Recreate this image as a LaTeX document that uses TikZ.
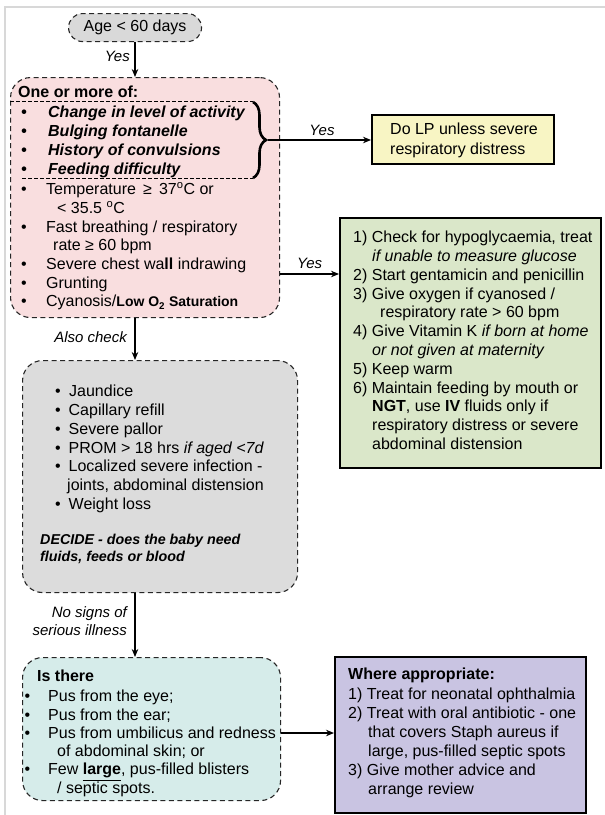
\documentclass[tikz,border=0pt]{standalone}
\usepackage{fontspec}
\setmainfont{Liberation Sans}
\usetikzlibrary{arrows.meta,decorations.pathreplacing}

\newcommand\fbody{\fontsize{16}{18.8}\selectfont}
\newcommand\flabel{\fontsize{15}{17.5}\selectfont\itshape}
\newcommand\bul[1]{\makebox[#1][l]{•}}

\definecolor{agefill}{HTML}{D9D9D9}
\definecolor{pinkfill}{HTML}{F9DEDF}
\definecolor{greyfill}{HTML}{DCDCDC}
\definecolor{tealfill}{HTML}{D6ECEA}
\definecolor{yellowfill}{HTML}{F8F5C4}
\definecolor{greenfill}{HTML}{DAE7C9}
\definecolor{purplefill}{HTML}{C9C4E2}
\definecolor{framegrey}{HTML}{D8D8D8}

\begin{document}
\begin{tikzpicture}[x=1pt,y=-1pt,
  dbox/.style={draw=black!85, line width=1.1pt, dash pattern=on 5pt off 3.5pt,
    rounded corners=20pt, inner sep=0pt, anchor=north west},
  sbox/.style={draw=black, line width=1.6pt, inner sep=0pt, anchor=north west},
  txt/.style={anchor=north west, inner sep=0pt, align=left, font=\fbody},
  lbl/.style={inner sep=0pt, font=\flabel},
  arr/.style={-{Stealth[length=8pt,width=6.5pt]}, line width=1.1pt},
  sepline/.style={line width=0.7pt, dash pattern=on 4pt off 2pt},
]
\useasboundingbox (0,0) rectangle (605,815);
\fill[white] (0,0) rectangle (605,815);
\draw[framegrey, line width=1.6pt] (5,815) -- (5,7) -- (605,7);

% boxes
\node[dbox, fill=agefill, minimum width=133pt, minimum height=28pt,
      rounded corners=14pt, font=\fbody] (age) at (68,13) {Age < 60 days};
\node[dbox, fill=pinkfill, minimum width=269pt, minimum height=240pt] (pink) at (10,77) {};
\node[dbox, fill=greyfill, minimum width=275pt, minimum height=232pt] (grey) at (22,360) {};
\node[dbox, fill=tealfill, minimum width=258pt, minimum height=143pt] (teal) at (22,657) {};
\node[sbox, fill=yellowfill, minimum width=182pt, minimum height=49pt] (yellow) at (371,114) {};
\node[sbox, fill=greenfill, minimum width=261pt, minimum height=250pt] (green) at (339,217) {};
\node[sbox, fill=purplefill, minimum width=251pt, minimum height=156pt] (purple) at (334,656) {};

% danger signs
\node[txt, font=\fbody\bfseries] (ptitle) at (18,83.8) {\strut One or more of:};
\draw[sepline] (10,101) -- (253,101);
\node[txt, font=\fontsize{16}{19}\selectfont\bfseries\itshape] (plistA) at (21,104.2) {%
  \strut\bul{27pt}Change in level of activity\\
  \bul{27pt}Bulging fontanelle\\
  \bul{27pt}History of convulsions\\
  \bul{27pt}Feeding difficulty};
\draw[sepline] (22,178) -- (253,178);
\draw[line width=2.6pt, decorate, decoration={brace, amplitude=13pt}]
  (253,102) -- (253,178);
\coordinate (tip) at (268,140);

\node[txt, font=\fontsize{16}{18.7}\selectfont] (plistB) at (21,181.4) {%
  \strut\bul{25pt}Temperature \,≥\, 37\textsuperscript{o}C or\\
  \hspace*{36pt}< 35.5 \textsuperscript{o}C\\
  \bul{25pt}Fast breathing / respiratory\\
  \hspace*{32pt}rate ≥ 60 bpm\\
  \bul{25pt}Severe chest wa\textbf{ll} indrawing\\
  \bul{25pt}Grunting\\
  \bul{25pt}Cyanosis/{\fontsize{14}{14}\selectfont\bfseries Low O\textsubscript{2} Saturation}};

% treatment boxes
\node[txt, font=\fontsize{16}{19.3}\selectfont] (ytext) at (390,121) {%
  \strut Do LP unless severe\\ respiratory distress};

\node[txt] (gtext) at (353,229.3) {%
  \strut 1) Check for hypoglycaemia, treat\\
  \hspace*{19pt}\textit{if unable to measure glucose}\\
  2) Start gentamicin and penicillin\\
  3) Give oxygen if cyanosed /\\
  \hspace*{27pt}respiratory rate > 60 bpm\\
  4) Give Vitamin K \textit{if born at home}\\
  \hspace*{19pt}\textit{or not given at maternity}\\
  5) Keep warm\\
  6) Maintain feeding by mouth or\\
  \hspace*{19pt}\textbf{NGT}, use \textbf{IV} fluids only if\\
  \hspace*{19pt}respiratory distress or severe\\
  \hspace*{19pt}abdominal distension};

% also check
\node[txt] (gylist) at (55,383.3) {%
  \strut\bul{14pt}Jaundice\\
  \bul{13.5pt}Capillary refill\\
  \bul{13.5pt}Severe pallor\\
  \bul{13.5pt}PROM > 18 hrs \textit{if aged <7d}\\
  \bul{13.5pt}Localized severe infection -\\
  \hspace*{12pt}joints, abdominal distension\\
  \bul{13.5pt}Weight loss};
\node[txt, font=\fontsize{14.3}{17}\selectfont\bfseries\itshape] (decide) at (40,532.6) {%
  \strut DECIDE - does the baby need\\ fluids, feeds or blood};

% local infection
\node[txt, font=\fbody\bfseries] (ttitle) at (37,668.3) {\strut Is there};
\node[txt, font=\fontsize{16}{18.3}\selectfont] (tlist) at (24.5,688.7) {%
  \strut\bul{23.5pt}Pus from the eye;\\
  \bul{23.5pt}Pus from the ear;\\
  \bul{23.5pt}Pus from umbilicus and redness\\
  \hspace*{32.5pt}of abdominal skin; or\\
  \bul{23.5pt}Few \underline{\textbf{large}}, pus-filled blisters\\
  \hspace*{32.5pt}/ septic spots.};

\node[txt, font=\fbody\bfseries] (ptitle2) at (348,666.3) {\strut Where appropriate:};
\node[txt, font=\fontsize{16}{19}\selectfont] (plist) at (348,686.2) {%
  \strut 1) Treat for neonatal ophthalmia\\
  2) Treat with oral antibiotic - one\\
  \hspace*{20pt}that covers Staph aureus if\\
  \hspace*{20pt}large, pus-filled septic spots\\
  3) Give mother advice and\\
  \hspace*{20pt}arrange review};

% connectors
\coordinate (col) at (135,0);
\coordinate (row2) at (0,274);
\coordinate (row3) at (0,733);
\draw[arr] (age.south -| col) -- (pink.north -| col);
\draw[arr] (pink.south -| col) -- (grey.north -| col);
\draw[arr] (grey.south -| col) -- (teal.north -| col);
\draw[arr] (tip) -- (tip -| yellow.west);
\draw[arr] (pink.east |- row2) -- (green.west |- row2);
\draw[arr] (teal.east |- row3) -- (purple.west |- row3);

% connector labels
\node[lbl, anchor=base east] (yes1) at (130,61) {Yes};
\node[lbl, anchor=base] (yes2) at (322,135) {Yes};
\node[lbl, anchor=base west] (yes3) at (297,268) {Yes};
\node[lbl, anchor=base east] (also) at (127,342) {Also check};
\node[lbl, anchor=north east, align=right] (nosigns) at (127,605.3) {%
  \strut No signs of\\ serious illness};
\end{tikzpicture}
\end{document}
